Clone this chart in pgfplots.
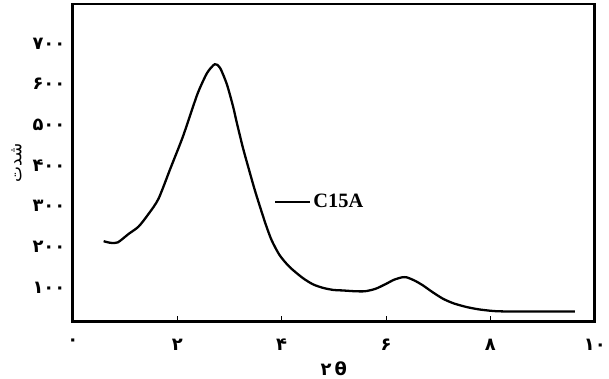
\documentclass[border=0pt]{standalone}
\usepackage{fontspec}
\usepackage{pgfplots}
\pgfplotsset{compat=1.18}
\TeXXeTstate=1
\setmainfont{Liberation Serif}
\newfontfamily\pfont[Script=Arabic]{DejaVu Sans}
\begin{document}
\begin{tikzpicture}
\begin{axis}[
  at={(0,0)}, anchor=south west,
  scale only axis, width=523bp, height=318bp,
  xmin=0, xmax=10, ymin=17, ymax=797,
  axis line style={line width=2.8pt},
  xtick={0,2,4,6,8,10},
  xticklabels={۰,۲,۴,۶,۸,۱۰},
  ytick={100,200,300,400,500,600,700},
  yticklabels={۱۰۰,۲۰۰,۳۰۰,۴۰۰,۵۰۰,۶۰۰,۷۰۰},
  xtick align=inside, tick style={black, line width=1pt},
  xtick pos=bottom, ytick pos=left,
  major tick length=5bp,
  y tick style={draw=none},
  x tick label style={font=\pfont\bfseries\fontsize{18}{20}\selectfont, yshift=-14bp},
  y tick label style={font=\pfont\bfseries\fontsize{18}{20}\selectfont, xshift=-4bp},
  xlabel={\pfont\bfseries\fontsize{18}{20}\selectfont ۲\,θ},
  xlabel style={yshift=-4bp},
  ylabel={\pfont\fontsize{17}{19}\selectfont\beginR شدت\endR},
  ylabel style={yshift=4bp},
  legend style={draw=none, fill=none, at={(0.38,0.377)}, anchor=west,
    font=\bfseries\fontsize{20.5}{23}\selectfont},
  legend cell align=left,
  legend image code/.code={\draw[line width=2.2pt] (0bp,0bp) -- (35bp,0bp);},
]
\addplot[black, line width=2.3pt, smooth, tension=0.45] coordinates {
(0.59,214) (0.72,210) (0.86,211) (1.07,232) (1.26,250) (1.45,281) (1.64,318)
(1.87,393) (2.10,468) (2.27,532) (2.40,580) (2.57,627) (2.72,649) (2.82,640)
(2.95,600) (3.07,545) (3.14,506) (3.26,443) (3.37,392) (3.49,338) (3.62,285)
(3.71,250) (3.81,216) (3.96,180) (4.15,151) (4.40,124) (4.60,108)
(4.80,99) (5.00,94) (5.16,93) (5.40,91) (5.60,91) (5.80,97) (6.00,109) (6.15,119)
(6.30,125) (6.40,125) (6.55,117) (6.70,106) (6.90,88) (7.10,72) (7.30,61)
(7.55,52) (7.80,46) (8.10,42) (8.50,41) (9.00,41) (9.62,41)
};
\addlegendentry{C15A}
\end{axis}
\path[use as bounding box] (-73bp,-56bp) rectangle (536bp,322bp);
\end{tikzpicture}
\end{document}
